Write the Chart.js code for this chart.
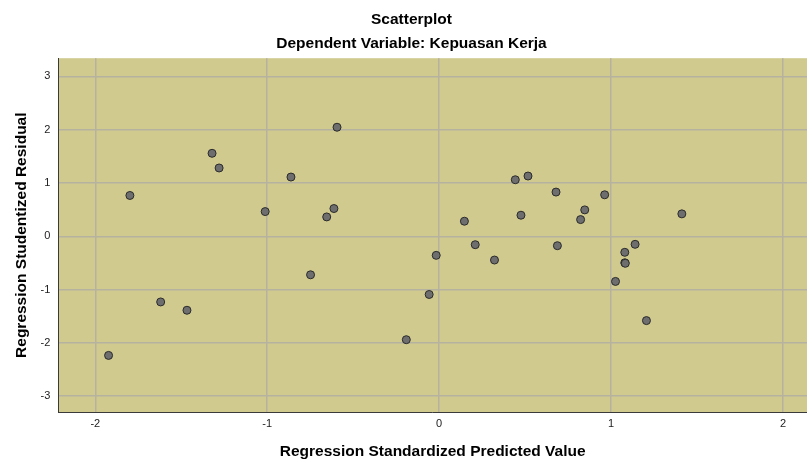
<!DOCTYPE html>
<html>
<head>
<meta charset="utf-8">
<script src="https://cdn.jsdelivr.net/npm/chart.js@4/dist/chart.umd.min.js"></script>
<style>
  body { margin: 0; background: #fff; }
  #wrap { width: 807px; height: 461px; }
</style>
</head>
<body>
<div id="wrap"><canvas id="residualChart"></canvas></div>
<script>
// nilai prediksi terstandar (sumbu x) dan residual studentized (sumbu y)
const predictedValues = [-1.923, -1.799, -1.620, -1.467, -1.321, -1.280, -1.012, -0.862, -0.748, -0.654, -0.612,
    -0.594, -0.191, -0.058, -0.017, 0.147, 0.210, 0.322, 0.443, 0.476, 0.517, 0.680, 0.688, 0.823, 0.847, 0.963,
    1.026, 1.080, 1.083, 1.080, 1.140, 1.206, 1.412];
const residuals = [-2.235, 0.765, -1.232, -1.388, 1.556, 1.281, 0.463, 1.111, -0.723, 0.363, 0.520,
    2.045, -1.940, -1.092, -0.358, 0.282, -0.158, -0.446, 1.060, 0.395, 1.130, 0.829, -0.177, 0.313, 0.495, 0.778,
    -0.847, -0.497, -0.507, -0.301, -0.151, -1.582, 0.420];
const xTicks = [-2, -1, 0, 1, 2];
const yTicks = [-3, -2, -1, 0, 1, 2, 3];

const points = predictedValues.map((x, i) => ({ x: x, y: residuals[i] }));

const fontFamily = "'Liberation Sans', Arial, sans-serif";

// latar plot warna khaki
const plotBackground = {
    id: 'plotBackground',
    beforeDraw(chart) {
        const { ctx, chartArea } = chart;
        ctx.save();
        ctx.fillStyle = '#d0ca8e';
        ctx.fillRect(chartArea.left, chartArea.top, chartArea.right - chartArea.left, chartArea.bottom - chartArea.top);
        ctx.restore();
    }
};

// judul sedikit digeser ke kanan seperti di SPSS
const shiftTitles = {
    id: 'shiftTitles',
    afterLayout(chart) {
        chart.boxes.forEach(b => {
            if (!b.axis && b.options && b.options.text !== undefined) {
                b.left += 8;
                b.right += 8;
            }
        });
    }
};

const ctx = document.getElementById('residualChart').getContext('2d');
const residualChart = new Chart(ctx, {
    type: 'scatter',
    data: {
        datasets: [{
            data: points,
            backgroundColor: '#6e6e6e',
            borderColor: '#2b2b2b',
            borderWidth: 1,
            pointRadius: 4,
            pointHoverRadius: 4
        }]
    },
    options: {
        responsive: true,
        maintainAspectRatio: false,
        animation: false,
        layout: {
            autoPadding: false,
            padding: 0
        },
        plugins: {
            legend: { display: false },
            tooltip: { enabled: false },
            title: {
                display: true,
                text: 'Scatterplot',
                color: '#000',
                font: { family: fontFamily, size: 15.5, weight: 'bold' },
                padding: { top: 10, bottom: 0 }
            },
            subtitle: {
                display: true,
                text: 'Dependent Variable: Kepuasan Kerja',
                color: '#000',
                font: { family: fontFamily, size: 15.5, weight: 'bold' },
                padding: { top: 6, bottom: 5 }
            }
        },
        scales: {
            x: {
                type: 'linear',
                min: -2.215,
                max: 2.14,
                afterBuildTicks: axis => { axis.ticks = xTicks.map(v => ({ value: v })); },
                grid: {
                    color: '#b5b2a0',
                    lineWidth: 1.5,
                    drawTicks: false
                },
                border: { display: true, color: '#3a3a3a', width: 1 },
                ticks: {
                    color: '#222',
                    padding: 5,
                    font: { family: fontFamily, size: 11 }
                },
                title: {
                    display: true,
                    text: 'Regression Standardized Predicted Value',
                    color: '#000',
                    font: { family: fontFamily, size: 15.5, weight: 'bold' },
                    padding: { top: 7, bottom: 0 }
                }
            },
            y: {
                type: 'linear',
                min: -3.3,
                max: 3.34,
                afterBuildTicks: axis => { axis.ticks = yTicks.map(v => ({ value: v })); },
                grid: {
                    color: '#b5b2a0',
                    lineWidth: 1.5,
                    drawTicks: false
                },
                border: { display: true, color: '#3a3a3a', width: 1 },
                ticks: {
                    color: '#222',
                    padding: 8,
                    font: { family: fontFamily, size: 11 }
                },
                title: {
                    display: true,
                    text: 'Regression Studentized Residual',
                    color: '#000',
                    font: { family: fontFamily, size: 15.5, weight: 'bold' },
                    padding: { top: 12, bottom: 2 }
                }
            }
        }
    },
    plugins: [plotBackground, shiftTitles]
});
</script>
</body>
</html>
